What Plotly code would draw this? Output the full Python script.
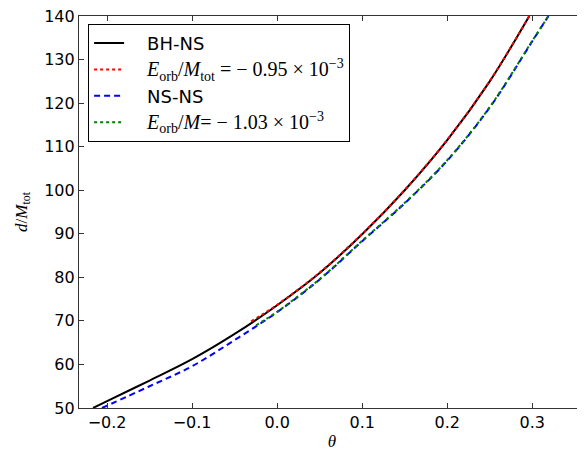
import plotly.graph_objects as go

# BH-NS (black solid)
bhns_theta = [-0.2165, -0.20, -0.15, -0.10, -0.05, 0.00, 0.05, 0.10, 0.15, 0.20, 0.25, 0.2965]
bhns_d = [50.0, 51.6, 56.3, 61.2, 67.0, 73.6, 81.0, 89.9, 100.0, 111.5, 125.0, 140.0]

# E_orb/M_tot = -0.95e-3 (red dotted)
red_theta = [-0.0306, 0.00, 0.05, 0.10, 0.15, 0.20, 0.25, 0.2965]
red_d = [69.9, 73.7, 81.1, 90.0, 100.1, 111.6, 125.1, 140.0]

# NS-NS (blue dashed)
nsns_theta = [-0.206, -0.15, -0.10, -0.05, 0.00, 0.05, 0.10, 0.15, 0.20, 0.25, 0.30, 0.319]
nsns_d = [50.0, 55.0, 59.6, 65.6, 72.0, 79.5, 88.3, 97.0, 106.8, 119.0, 134.2, 140.0]

# E_orb/M = -1.03e-3 (green dotted)
green_theta = [-0.0247, 0.00, 0.05, 0.10, 0.15, 0.20, 0.25, 0.30, 0.319]
green_d = [69.0, 72.1, 79.6, 88.4, 97.1, 106.9, 119.1, 134.3, 140.0]

x_ticks = [-0.2, -0.1, 0.0, 0.1, 0.2, 0.3]
x_tick_labels = ["\u22120.2", "\u22120.1", "0.0", "0.1", "0.2", "0.3"]
y_ticks = [50, 60, 70, 80, 90, 100, 110, 120, 130, 140]

SERIF = "Liberation Serif"
SANS = "DejaVu Sans"
GAP = "\u2002\u2002"

def serif(s):
    return GAP + '<span style="font-family:%s;font-size:20px">%s</span>' % (SERIF, s)

fig = go.Figure()
fig.add_trace(go.Scatter(x=bhns_theta, y=bhns_d, mode="lines", name=GAP + "BH-NS",
                         line=dict(color="black", width=2, shape="spline")))
fig.add_trace(go.Scatter(x=red_theta, y=red_d, mode="lines",
                         name=serif("<i>E</i><sub>orb</sub>/<i>M</i><sub>tot</sub> = \u2212 0.95 \u00d7 10<sup>\u22123</sup>"),
                         line=dict(color="red", width=2, dash="dot", shape="spline")))
fig.add_trace(go.Scatter(x=nsns_theta, y=nsns_d, mode="lines", name=GAP + "NS-NS",
                         line=dict(color="blue", width=2, dash="6px,4px", shape="spline")))
fig.add_trace(go.Scatter(x=green_theta, y=green_d, mode="lines",
                         name=serif("<i>E</i><sub>orb</sub>/<i>M</i>= \u2212 1.03 \u00d7 10<sup>\u22123</sup>"),
                         line=dict(color="green", width=2, dash="dot", shape="spline")))

axis_common = dict(showline=True, linecolor="#333", linewidth=1.2, mirror="allticks",
                   ticks="inside", ticklen=5, tickcolor="#333", tickwidth=1,
                   showgrid=False, zeroline=False, ticklabeloverflow="allow",
                   tickfont=dict(family=SANS, size=16, color="black"))

fig.update_xaxes(range=[-0.233, 0.362], tickvals=x_ticks, ticktext=x_tick_labels,
                 title=dict(text="<i>\u03b8</i>", font=dict(family=SERIF, size=17, color="black"), standoff=4),
                 **axis_common)
fig.update_yaxes(range=[50, 140], tickvals=y_ticks,
                 title=dict(text="<i>d</i>/<i>M</i><sub>tot</sub>", font=dict(family=SERIF, size=17, color="black"), standoff=12),
                 **axis_common)

# the page body has an 8px default margin, so the figure is offset by 8px
fig.update_layout(
    width=577, height=443,
    margin=dict(l=71, r=0, t=8, b=43, autoexpand=False),
    paper_bgcolor="white", plot_bgcolor="white",
    showlegend=True,
    legend=dict(x=0.018, y=0.98, xanchor="left", yanchor="top",
                bgcolor="white", bordercolor="black", borderwidth=1,
                font=dict(family=SANS, size=18, color="black"),
                tracegroupgap=0, itemwidth=30),
)

fig.write_html("out.html")
